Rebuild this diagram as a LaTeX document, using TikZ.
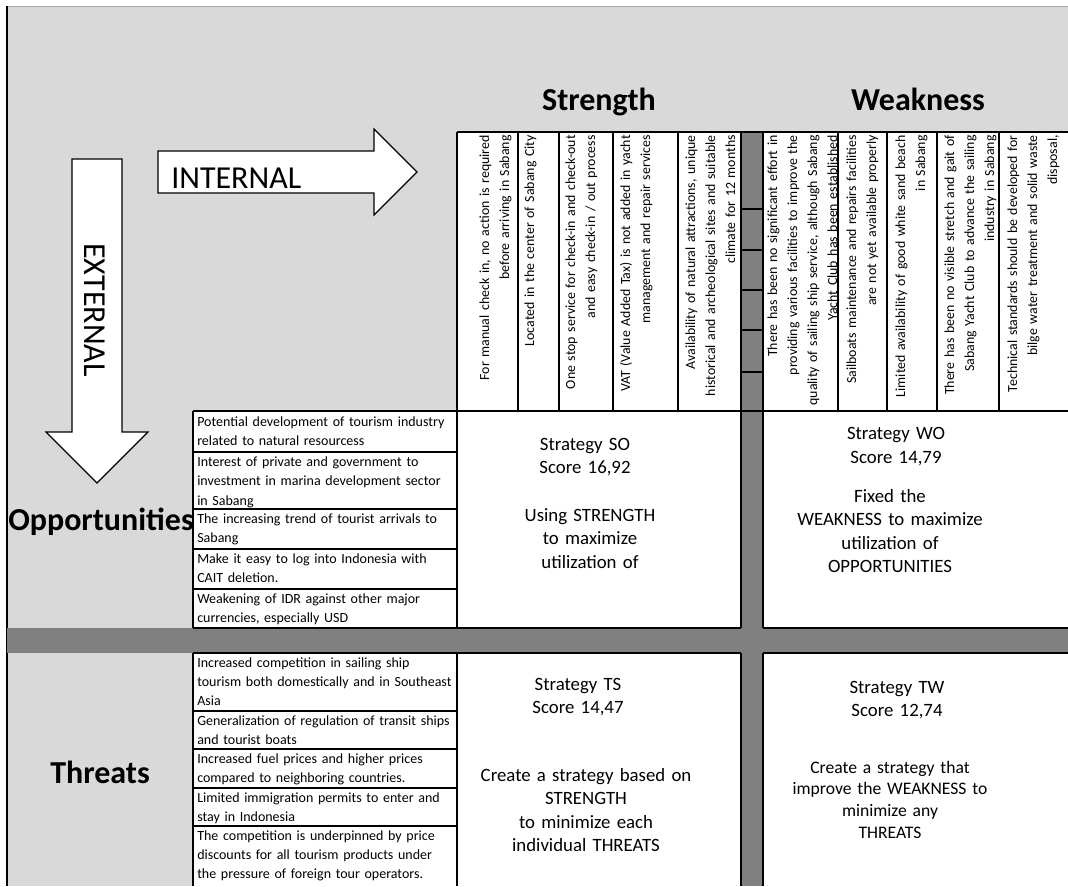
\documentclass[tikz,border=0pt]{standalone}
\usepackage{fontspec}
\setmainfont{Carlito}
\definecolor{bgg}{HTML}{D9D9D9}
\definecolor{band}{HTML}{808080}
\hyphenpenalty=10000
\exhyphenpenalty=10000
\begin{document}
\begin{tikzpicture}[x=0.75pt,y=-0.75pt,
  cell/.style={draw=black,line width=0.9pt},
  rottxt/.style={rotate=90,anchor=base east,inner sep=0pt,text width=250pt,align=right,font=\fontsize{10.4pt}{15pt}\selectfont},
  rowtxt/.style={anchor=base west,inner sep=0pt,text width=240pt,align=left,font=\fontsize{10.5pt}{14.5pt}\selectfont},
  strat/.style={anchor=base,inner sep=0pt,text width=220pt,align=center,font=\fontsize{14.1pt}{17.7pt}\selectfont},
  stratsm/.style={anchor=base,inner sep=0pt,text width=220pt,align=center,font=\fontsize{13.2pt}{16.3pt}\selectfont},
  head/.style={anchor=base,inner sep=0pt,font=\fontsize{24pt}{29pt}\selectfont\bfseries},
  arrowshape/.style={draw=black,fill=white,line width=0.9pt,line join=miter}]
\useasboundingbox (0,0) rectangle (1068,886);
% background
\fill[bgg] (7,6) rectangle (1068,886);
\draw[line width=0.75pt,color=black!35] (7,6) -- (1068,6);
\draw[line width=0.9pt] (7,6) -- (7,886);
% bands
\fill[band] (741,132) rectangle (763,886);
\fill[band] (7,628) rectangle (1068,653);
% white cells
\fill[white] (457,132) rectangle (741,411);
\fill[white] (763,132) rectangle (1068,411);
\fill[white] (193,411) rectangle (741,628);
\fill[white] (763,411) rectangle (1068,628);
\fill[white] (193,653) rectangle (741,886);
\fill[white] (763,653) rectangle (1068,886);
% arrows
\draw[arrowshape] (158,151) -- (374,151) -- (374,129) -- (417,172) -- (374,215) -- (374,193) -- (158,193) -- cycle;
\draw[arrowshape] (72,159) -- (122,159) -- (122,432) -- (148,432) -- (97,483) -- (46,432) -- (72,432) -- cycle;
\node[anchor=base west,inner sep=0pt,font=\fontsize{24pt}{29pt}\selectfont] (int) at (171,188) {INTERNAL};
\node[rotate=-90,inner sep=0pt,font=\fontsize{24pt}{29pt}\selectfont] (ext) at (95,310) {EXTERNAL};
% headings
\node[head] (hs) at (599,110) {Strength};
\node[head] (hw) at (918,110) {Weakness};
\node[head] (ho) at (101,530) {Opportunities};
\node[head] (ht) at (100,783) {Threats};
% strength columns
\node[rottxt] (s1) at (489,135) {For manual check in, no action is required\\before arriving in Sabang};
\node[rottxt] (s2) at (534,135) {Located in the center of Sabang City};
\node[rottxt] (s3) at (575,135) {One stop service for check-in and check-out\\and easy check-in / out process};
\node[rottxt] (s4) at (630,135) {VAT (Value Added Tax) is not added in yacht\\management and repair services};
\node[rottxt] (s5) at (695,135) {Availability of natural attractions, unique\\historical and archeological sites and suitable\\climate for 12 months};
% weakness columns
\node[rottxt] (w1) at (777,135) {There has been no significant effort in\\providing various facilities to improve the\\quality of sailing ship service, although Sabang\\Yacht Club has been established};
\node[rottxt] (w2) at (856,135) {Sailboats maintenance and repairs facilities\\are not yet available properly};
\node[rottxt] (w3) at (905,135) {Limited availability of good white sand beach\\in Sabang};
\node[rottxt] (w4) at (954,135) {There has been no visible stretch and gait of\\Sabang Yacht Club to advance the sailing\\industry in Sabang};
\node[rottxt] (w5) at (1017,135) {Technical standards should be developed for\\bilge water treatment and solid waste\\disposal,};
% opportunities
\node[rowtxt] (o1) at (197,426) {Potential development of tourism industry\\related to natural resourcess};
\node[rowtxt] (o2) at (197,466.5) {Interest of private and government to\\investment in marina development sector\\in Sabang};
\node[rowtxt] (o3) at (197,523.5) {The increasing trend of tourist arrivals to\\Sabang};
\node[rowtxt] (o4) at (197,563.5) {Make it easy to log into Indonesia with\\CAIT deletion.};
\node[rowtxt] (o5) at (197,603.5) {Weakening of IDR against other major\\currencies, especially USD};
% threats
\node[rowtxt] (t1) at (197,667) {Increased competition in sailing ship\\tourism both domestically and in Southeast\\Asia};
\node[rowtxt] (t2) at (197,725) {Generalization of regulation of transit ships\\and tourist boats};
\node[rowtxt] (t3) at (197,763) {Increased fuel prices and higher prices\\compared to neighboring countries.};
\node[rowtxt] (t4) at (197,802) {Limited immigration permits to enter and\\stay in Indonesia};
\node[rowtxt] (t5) at (197,840) {The competition is underpinned by price\\discounts for all tourism products under\\the pressure of foreign tour operators.};
% strategies
\node[strat] (soh) at (585,450) {Strategy SO\\Score 16,92};
\node[strat] (sob) at (590,521) {Using STRENGTH\\to maximize\\utilization of};
\node[strat] (woh) at (896,439.5) {Strategy WO\\Score 14,79};
\node[strat] (wob) at (890,502) {Fixed the\\WEAKNESS to maximize\\utilization of\\OPPORTUNITIES};
\node[strat] (tsh) at (578,690) {Strategy TS\\Score 14,47};
\node[strat] (tsb) at (586,781) {Create a strategy based on\\STRENGTH\\to minimize each\\individual THREATS};
\node[strat] (twh) at (897,693) {Strategy TW\\Score 12,74};
\node[stratsm] (twb) at (890,773) {Create a strategy that\\improve the WEAKNESS to\\minimize any\\THREATS};
% grid lines
\draw[cell] (457,132) -- (1068,132);
\draw[cell] (193,411) -- (1068,411);
\draw[cell] (193,628) -- (741,628) (763,628) -- (1068,628);
\draw[cell] (193,653) -- (741,653) (763,653) -- (1068,653);
\foreach \yy in {452,509,549,589,711,749,788,826} \draw[cell] (193,\yy) -- (457,\yy);
\foreach \yy in {209,250,290,330,372} \draw[cell] (741,\yy) -- (763,\yy);
\foreach \xx in {193,457,741,763} \draw[cell] (\xx,653) -- (\xx,886);
\draw[cell] (193,411) -- (193,628);
\foreach \xx in {457,741,763} \draw[cell] (\xx,132) -- (\xx,628);
\foreach \xx in {518,559,613,678,838,887,937,999} \draw[cell] (\xx,132) -- (\xx,411);
\end{tikzpicture}
\end{document}
